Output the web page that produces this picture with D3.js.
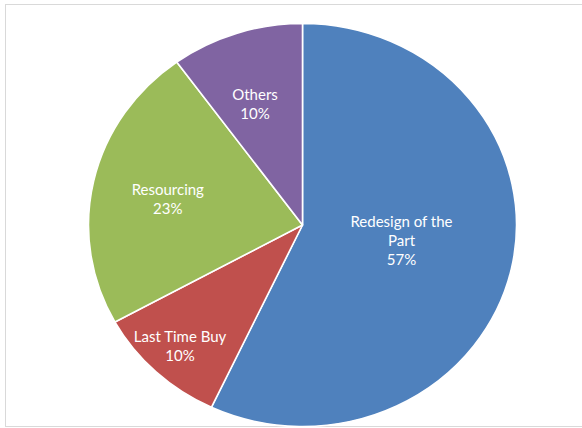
<!DOCTYPE html>
<html>
<head>
<meta charset="utf-8">
<script src="https://cdn.jsdelivr.net/npm/d3@7"></script>
<style>
  html, body { margin: 0; padding: 0; background: #fff; }
  svg { display: block; }
</style>
</head>
<body>
<svg id="chart" width="582" height="428"></svg>
<script>
const categories = ["Redesign of the Part", "Last Time Buy", "Resourcing", "Others"];
const values = [57, 10, 23, 10];
const labelLines = [["Redesign of the", "Part"], ["Last Time Buy"], ["Resourcing"], ["Others"]];
const colors = ["#4F81BD", "#C0504D", "#9BBB59", "#8064A2"];

const svg = d3.select("#chart");
const W = 582, H = 428;

// chart frame
svg.append("rect")
  .attr("x", 5.5).attr("y", 4.5)
  .attr("width", 590).attr("height", 422)
  .attr("fill", "#fff").attr("stroke", "#d9d9d9").attr("stroke-width", 1);

const cx = 302.5, cy = 225, rx = 214, ry = 201.5;
const sx = rx / ry;

const pie = d3.pie().sort(null).value(d => d)(values);
const arc = d3.arc().innerRadius(0).outerRadius(ry);

const g = svg.append("g").attr("transform", `translate(${cx},${cy}) scale(${sx},1)`);
g.selectAll("path")
  .data(pie)
  .join("path")
  .attr("d", arc)
  .attr("fill", (d, i) => colors[i])
  .attr("stroke", "#fff")
  .attr("stroke-width", 1.6)
  .attr("vector-effect", "non-scaling-stroke")
  .attr("stroke-linejoin", "round");

// label placement fractions of radius (x, y) for each slice
const place = [[0.474, 0.36], [0.836, 0.827], [0.645, 0.58], [0.718, 0.631]];
const total = d3.sum(values);
const fmt = v => Math.round(v / total * 100) + "%";
const lh = 18.7;

pie.forEach((d, i) => {
  const a = (d.startAngle + d.endAngle) / 2;
  const x = cx + rx * place[i][0] * Math.sin(a);
  const y = cy - ry * place[i][1] * Math.cos(a);
  const lines = labelLines[i].concat([fmt(values[i])]);
  const n = lines.length;
  const t = svg.append("text")
    .attr("x", x)
    .attr("text-anchor", "middle")
    .attr("font-family", "Lato, 'Open Sans', sans-serif")
    .attr("font-size", 15)
    .attr("fill", "#ffffff");
  lines.forEach((s, k) => {
    t.append("tspan")
      .attr("x", x)
      .attr("y", y + (k - (n - 1) / 2) * lh)
      .attr("dy", "0.35em")
      .text(s);
  });
});
</script>
</body>
</html>
